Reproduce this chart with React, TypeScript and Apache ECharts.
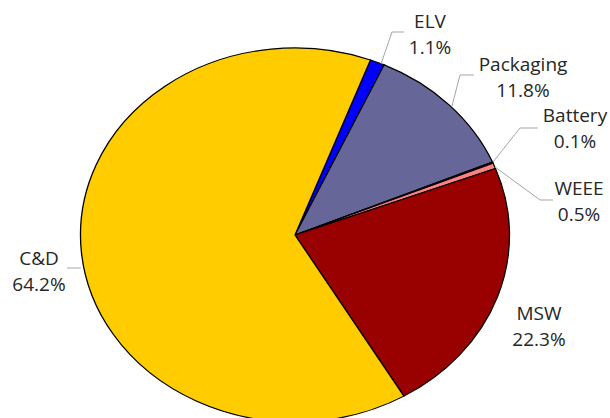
import React, { useEffect, useRef } from "react";
import * as echarts from "echarts";

// Waste stream shares, clockwise from the ELV slice
const categories = ["ELV", "Packaging", "Battery", "WEEE", "MSW", "C&D"];
const shares = [1.1, 11.8, 0.1, 0.5, 22.3, 64.2];
const sliceColors = ["#0000FF", "#666699", "#33CC99", "#FF8080", "#990000", "#FFCC00"];

// Pie geometry (elliptical pie: horizontal and vertical radii)
const CX = 295;
const CY = 235;
const RX = 214.5;
const RY = 187;
const START_DEG = 20.6; // clockwise from 12 o'clock

// Label anchors (block centre) and leader lines, in slice order
const labelPos: [number, number][] = [
  [430, 34],
  [523, 77],
  [575, 128],
  [579, 201],
  [539, 326],
  [39, 271],
];
const leaderLines: [number, number][][] = [
  [[381, 64], [392, 32], [404, 32]],
  [[452, 106], [460, 75], [474, 75]],
  [[493, 162], [520, 128], [538, 128]],
  [[495, 167], [540, 200], [553, 200]],
  [],
  [[81, 268], [67, 268]],
];

export default function App() {
  const ref = useRef<HTMLDivElement>(null);

  useEffect(() => {
    if (!ref.current) return;
    const chart = echarts.init(ref.current, undefined, { renderer: "svg" });
    const total = shares.reduce((a, b) => a + b, 0);

    chart.setOption({
      animation: false,
      backgroundColor: "#ffffff",
      series: [
        {
          type: "custom",
          coordinateSystem: "none",
          data: shares.map((v) => [v]),
          renderItem: (params: any, api: any) => {
            const i = params.dataIndex;
            const value = api.value(0) as number;
            const before = shares.slice(0, i).reduce((a, b) => a + b, 0);
            const a0 = ((START_DEG - 90) * Math.PI) / 180 + (before / total) * Math.PI * 2;
            const a1 = a0 + (value / total) * Math.PI * 2;
            const children: any[] = [
              {
                type: "sector",
                x: CX,
                y: CY,
                scaleY: RY / RX,
                shape: { cx: 0, cy: 0, r: RX, r0: 0, startAngle: a0, endAngle: a1, clockwise: true },
                style: {
                  fill: sliceColors[i],
                  stroke: "#000000",
                  lineWidth: 1.3,
                  strokeNoScale: true,
                },
              },
            ];
            const pts = leaderLines[i];
            if (pts.length) {
              children.push({
                type: "polyline",
                shape: { points: pts },
                style: { stroke: "#A6A6A6", lineWidth: 1, fill: "none" },
                z2: 5,
              });
            }
            children.push({
              type: "text",
              x: labelPos[i][0],
              y: labelPos[i][1],
              style: {
                text: `${categories[i]}\n${value.toFixed(1)}%`,
                fontFamily: "Open Sans",
                fontSize: 19,
                lineHeight: 26,
                fill: "#262626",
                align: "center",
                verticalAlign: "middle",
              },
              z2: 10,
            });
            return { type: "group", children };
          },
        },
      ],
    });

    return () => chart.dispose();
  }, []);

  return (
    <div
      ref={ref}
      style={{ position: "fixed", left: 0, top: 0, width: 610, height: 418, background: "#fff" }}
    />
  );
}
